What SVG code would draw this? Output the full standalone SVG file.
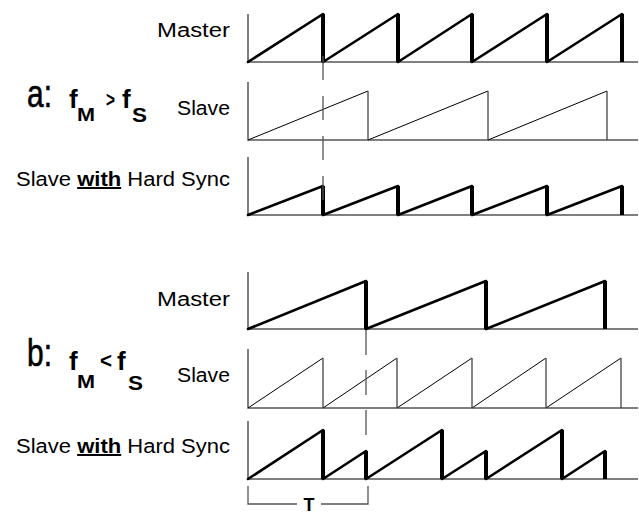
<svg xmlns="http://www.w3.org/2000/svg" width="639" height="514" viewBox="0 0 639 514">
<style>
.lbl{font-family:"Liberation Sans",Arial,sans-serif;font-size:20px;fill:#000}
.big{font-family:"Liberation Sans",Arial,sans-serif;font-size:38px;fill:#000;stroke:#000;stroke-width:0.6}
.f{font-family:"Liberation Sans",Arial,sans-serif;font-weight:bold;fill:#000}
.axis{stroke:#555;stroke-width:1.5;fill:none}
.ramp{stroke:#000;stroke-width:2.6;fill:none;stroke-linecap:round}
.drop{stroke:#000;stroke-width:4;fill:none}
.thin{stroke:#000;stroke-width:1;fill:none}
.thindrop{stroke:#444;stroke-width:1.3;fill:none}
.dash{stroke:#555;stroke-width:1.3;fill:none}
</style>
<rect width="639" height="514" fill="#fff"/>
<g id="labels">
<text class="lbl" x="230" y="37" text-anchor="end" textLength="73" lengthAdjust="spacingAndGlyphs">Master</text>
<text class="lbl" x="230" y="115" text-anchor="end" textLength="53" lengthAdjust="spacingAndGlyphs">Slave</text>
<text class="lbl" x="16" y="186" textLength="214" lengthAdjust="spacingAndGlyphs">Slave <tspan font-weight="bold" text-decoration="underline">with</tspan> Hard Sync</text>
<text class="lbl" x="230" y="306" text-anchor="end" textLength="73" lengthAdjust="spacingAndGlyphs">Master</text>
<text class="lbl" x="230" y="382" text-anchor="end" textLength="53" lengthAdjust="spacingAndGlyphs">Slave</text>
<text class="lbl" x="16" y="453" textLength="214" lengthAdjust="spacingAndGlyphs">Slave <tspan font-weight="bold" text-decoration="underline">with</tspan> Hard Sync</text>
</g>
<g id="case-a-title">
<text class="big" x="27" y="107" textLength="25" lengthAdjust="spacingAndGlyphs">a:</text>
<text class="f" x="69" y="108" font-size="26">f</text>
<text class="f" x="77" y="121" font-size="19" textLength="18" lengthAdjust="spacingAndGlyphs">M</text>
<text class="f" x="106" y="107" font-size="22" textLength="9" lengthAdjust="spacingAndGlyphs">&gt;</text>
<text class="f" x="122" y="108" font-size="26">f</text>
<text class="f" x="132" y="122" font-size="20" textLength="15" lengthAdjust="spacingAndGlyphs">S</text>
</g>
<g id="case-b-title">
<text class="big" x="27" y="366" textLength="25" lengthAdjust="spacingAndGlyphs">b:</text>
<text class="f" x="69" y="370" font-size="26">f</text>
<text class="f" x="77" y="388" font-size="19" textLength="18" lengthAdjust="spacingAndGlyphs">M</text>
<text class="f" x="100" y="368" font-size="22" textLength="12" lengthAdjust="spacingAndGlyphs">&lt;</text>
<text class="f" x="117" y="370" font-size="26">f</text>
<text class="f" x="128" y="390" font-size="20" textLength="15" lengthAdjust="spacingAndGlyphs">S</text>
</g>
<g id="axes">
<path class="axis" d="M248,14V62H638"/>
<path class="axis" d="M248,82V140H638"/>
<path class="axis" d="M248,157V215H638"/>
<path class="axis" d="M248,272V329H638"/>
<path class="axis" d="M248,349V408H638"/>
<path class="axis" d="M248,421V479H638"/>
</g>
<g id="master-a">
<path class="ramp" d="M248,62L323,14M323,62L398,14M398,62L472,14M472,62L547,14M547,62L622,14"/>
<path class="drop" d="M323,14V62M398,14V62M472,14V62M547,14V62M622,14V62"/>
</g>
<g id="slave-a">
<path class="thin" d="M248,140L368,91M368,140L488,91M488,140L607,91"/>
<path class="thindrop" d="M368,91V140M488,91V140M607,91V140"/>
</g>
<g id="sync-a">
<path class="ramp" d="M248,215L323,186M323,215L398,186M398,215L472,186M472,215L547,186M547,215L622,186"/>
<path class="drop" d="M323,186V215M398,186V215M472,186V215M547,186V215M622,186V215"/>
</g>
<g id="master-b">
<path class="ramp" d="M248,329L366,281M366,329L486,281M486,329L605,281"/>
<path class="drop" d="M366,281V329M486,281V329M605,281V329"/>
</g>
<g id="slave-b">
<path class="thin" d="M248,408L323,358M323,408L397,358M397,408L472,358M472,408L546,358M546,408L621,358"/>
<path class="thindrop" d="M323,358V408M397,358V408M472,358V408M546,358V408M621,358V408"/>
</g>
<g id="sync-b">
<path class="ramp" d="M248,479L323,430M323,479L366,451M366,479L442,430M442,479L486,451M486,479L562,430M562,479L605,451"/>
<path class="drop" d="M323,430V479M366,451V479M442,430V479M486,451V479M562,430V479M605,451V479"/>
</g>
<g id="connectors">
<path class="dash" d="M323,56V200" stroke-dasharray="24 16"/>
<path class="dash" d="M366,330V435" stroke-dasharray="25 15"/>
<path class="dash" d="M248,486V504H297M321,504H368V486"/>
</g>
<g id="period">
<text class="f" x="309" y="511" font-size="18" text-anchor="middle">T</text>
</g>
</svg>
